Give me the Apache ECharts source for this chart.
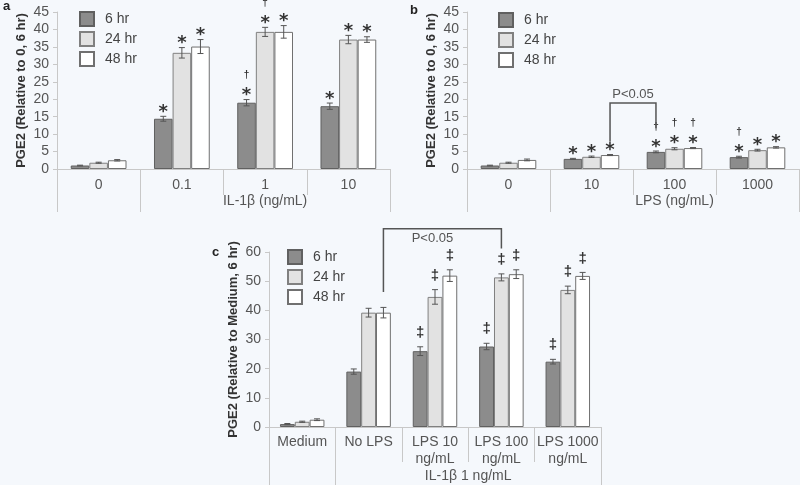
<!DOCTYPE html>
<html><head><meta charset="utf-8">
<style>html,body{margin:0;padding:0;background:#f5f8fc;}#chart{width:800px;height:485px;}</style>
<script src="https://cdn.jsdelivr.net/npm/echarts@6/dist/echarts.min.js"></script>
</head><body><div id="chart"></div>
<script>
const seriesNames = ['6 hr', '24 hr', '48 hr'];

// Panel a: IL-1β
const catsA = ['0', '0.1', '1', '10'];
const groupBoundsA = [0, 1, 4];
const groupNamesA = ['', 'IL-1β (ng/mL)'];
const a6 = [1.0, 14.4, 19.0, 18.0];
const a24 = [1.8, 33.3, 39.3, 37.1];
const a48 = [2.5, 35.1, 39.3, 37.1];
const errA6 = [0.1, 0.7, 0.9, 0.9];
const errA24 = [0.15, 1.5, 1.3, 1.2];
const errA48 = [0.2, 2.0, 1.8, 0.8];
const marksA6 = ['', '*', '†*', '*'];
const marksA24 = ['', '*', '†*', '*'];
const marksA48 = ['', '*', '*', '*'];

// Panel b: LPS
const catsB = ['0', '10', '100', '1000'];
const groupBoundsB = [0, 1, 4];
const groupNamesB = ['', 'LPS (ng/mL)'];
const b6 = [1.0, 2.9, 4.9, 3.4];
const b24 = [1.8, 3.5, 5.8, 5.4];
const b48 = [2.6, 4.0, 6.0, 6.2];
const errB6 = [0.1, 0.15, 0.25, 0.25];
const errB24 = [0.15, 0.2, 0.3, 0.25];
const errB48 = [0.25, 0.15, 0.15, 0.2];
const marksB6 = ['', '*', '†*', '†*'];
const marksB24 = ['', '*', '†*', '*'];
const marksB48 = ['', '*', '†*', '*'];
const bracketB = [[1, 2, 7.8], [2, 0, 11.7]]; // [category, series, y]
const bracketBTop = 18.9;

// Panel c: IL-1β 1 ng/mL + LPS
const catsC = ['Medium', 'No LPS', 'LPS 10\nng/mL', 'LPS 100\nng/mL', 'LPS 1000\nng/mL'];
const groupBoundsC = [0, 1, 5];
const groupNamesC = ['', 'IL-1β 1 ng/mL'];
const c6 = [1.0, 19.0, 26.0, 27.6, 22.4];
const c24 = [1.8, 39.2, 44.6, 51.3, 47.0];
const c48 = [2.5, 39.2, 51.9, 52.4, 51.8];
const errC6 = [0.2, 0.9, 1.5, 1.1, 0.8];
const errC24 = [0.2, 1.5, 2.5, 1.2, 1.3];
const errC48 = [0.3, 1.8, 2.0, 1.5, 1.2];
const marksC6 = ['', '', '‡', '‡', '‡'];
const marksC24 = ['', '', '‡', '‡', '‡'];
const marksC48 = ['', '', '‡', '‡', '‡'];
const bracketC = [[1, 2, 46.3], [3, 1, 61.2]];
const bracketCTop = 68;

const barColors = ['#8c8c8c', '#e2e2e2', '#ffffff'];
const borderColors = ['#606060', '#808080', '#707070'];
const GAP = 0.33;
const FONT = '"Liberation Sans", Arial, sans-serif';
const axisGray = '#c8c8c8';
const textGray = '#555';

const panels = [
  {cats: catsA, bounds: groupBoundsA, gnames: groupNamesA, vals: [a6, a24, a48], errs: [errA6, errA24, errA48], marks: [marksA6, marksA24, marksA48],
   grid: {left: 57, top: 12, width: 333, height: 157}, ymax: 45, yint: 5, yname: 'PGE2 (Relative to 0, 6 hr)', nameGap: 29,
   innerTick: 26, outerTick: 43, innerMargin: 8, outerMargin: 25},
  {cats: catsB, bounds: groupBoundsB, gnames: groupNamesB, vals: [b6, b24, b48], errs: [errB6, errB24, errB48], marks: [marksB6, marksB24, marksB48],
   grid: {left: 467, top: 12, width: 332, height: 157}, ymax: 45, yint: 5, yname: 'PGE2 (Relative to 0, 6 hr)', nameGap: 29,
   innerTick: 26, outerTick: 43, innerMargin: 8, outerMargin: 25,
   bracket: bracketB, bracketTop: bracketBTop, textAbove: true},
  {cats: catsC, bounds: groupBoundsC, gnames: groupNamesC, vals: [c6, c24, c48], errs: [errC6, errC24, errC48], marks: [marksC6, marksC24, marksC48],
   grid: {left: 269, top: 252, width: 332, height: 175}, ymax: 60, yint: 10, yname: 'PGE2 (Relative to Medium, 6 hr)', nameGap: 29,
   innerTick: 35, outerTick: 60, innerMargin: 7, outerMargin: 42,
   bracket: bracketC, bracketTop: bracketCTop, textAbove: false}
];

function barX(api, cat, s) {
  const cx = api.coord([cat, 0])[0];
  const bw = api.size([1, 0])[0] * (1 - GAP) / 3;
  return cx + (s - 1) * bw;
}

const grids = [], xAxes = [], yAxes = [], series = [], legends = [];
const legendPos = [{left: 79, top: 11}, {left: 498, top: 12}, {left: 287, top: 249}];

panels.forEach((p, pi) => {
  grids.push(Object.assign({containLabel: false}, p.grid));
  const mids = [];
  for (let g = 0; g < p.gnames.length; g++) if (p.gnames[g]) mids.push((p.bounds[g] + p.bounds[g + 1]) / 2);
  xAxes.push({
    type: 'category', gridIndex: pi, position: 'bottom', data: p.cats,
    axisLine: {show: true, lineStyle: {color: axisGray}},
    axisTick: {show: true, length: p.innerTick, lineStyle: {color: axisGray}},
    axisLabel: {margin: p.innerMargin, fontSize: 14, color: textGray, fontFamily: FONT, lineHeight: 17, interval: 0}
  });
  xAxes.push({
    type: 'value', gridIndex: pi, position: 'bottom', min: 0, max: p.cats.length,
    axisLine: {show: false}, splitLine: {show: false},
    axisTick: {show: true, length: p.outerTick, customValues: p.bounds, lineStyle: {color: axisGray}},
    axisLabel: {customValues: mids, margin: p.outerMargin, fontSize: 14, color: textGray, fontFamily: FONT,
      formatter: (v) => { for (let g = 0; g < p.gnames.length; g++) { if (v > p.bounds[g] && v < p.bounds[g + 1]) return p.gnames[g]; } return ''; }}
  });
  yAxes.push({
    type: 'value', gridIndex: pi, min: 0, max: p.ymax, interval: p.yint,
    axisLine: {show: true, lineStyle: {color: axisGray}},
    axisTick: {show: true, length: 4, lineStyle: {color: axisGray}},
    splitLine: {show: false},
    axisLabel: {margin: 8, fontSize: 14, color: textGray, fontFamily: FONT},
    name: p.yname, nameLocation: 'middle', nameGap: p.nameGap,
    nameTextStyle: {fontWeight: 'bold', fontSize: 13, color: '#333', fontFamily: FONT}
  });
  for (let s = 0; s < 3; s++) {
    series.push({
      type: 'bar', name: seriesNames[s], xAxisIndex: pi * 2, yAxisIndex: pi, data: p.vals[s],
      barGap: '0%', barCategoryGap: (GAP * 100) + '%',
      itemStyle: {color: barColors[s], borderColor: borderColors[s], borderWidth: 1},
      emphasis: {disabled: true}
    });
  }
  const errData = [];
  for (let s = 0; s < 3; s++) for (let c = 0; c < p.cats.length; c++) errData.push([c, p.vals[s][c], p.errs[s][c], s]);
  series.push({
    type: 'custom', xAxisIndex: pi * 2, yAxisIndex: pi, z: 10, silent: true, clip: false,
    dimensions: ['cat', 'val', 'err', 'ser'], encode: {x: 0, y: 1},
    data: errData,
    renderItem: (params, api) => {
      const cat = api.value(0), v = api.value(1), e = api.value(2), s = api.value(3);
      const x = barX(api, cat, s);
      const top = api.coord([cat, v + e])[1];
      const bot = api.coord([cat, v - e])[1];
      const ls = {stroke: '#555', lineWidth: 1};
      const ch = [
        {type: 'line', shape: {x1: x, y1: top, x2: x, y2: bot}, style: ls},
        {type: 'line', shape: {x1: x - 3, y1: top, x2: x + 3, y2: top}, style: ls},
        {type: 'line', shape: {x1: x - 3, y1: bot, x2: x + 3, y2: bot}, style: ls}
      ];
      const m = p.marks[s][cat] || '';
      if (m.indexOf('*') >= 0) ch.push({type: 'text', style: {text: '*', x: x, y: top - 4, font: 'bold 18px "DejaVu Sans"', fill: '#333', align: 'center', verticalAlign: 'middle'}});
      if (m.indexOf('†') >= 0) ch.push({type: 'text', style: {text: '†', x: x, y: top - 24, font: 'bold 10px "Liberation Sans"', fill: '#333', align: 'center', verticalAlign: 'middle'}});
      if (m.indexOf('‡') >= 0) ch.push({type: 'text', style: {text: '‡', x: x, y: top - 14, font: 'bold 15px "Liberation Sans"', fill: '#333', align: 'center', verticalAlign: 'middle'}});
      return {type: 'group', children: ch};
    }
  });
  if (p.bracket) {
    series.push({
      type: 'custom', xAxisIndex: pi * 2, yAxisIndex: pi, z: 11, silent: true, clip: false,
      data: [[0, 0]],
      renderItem: (params, api) => {
        const [l, r] = p.bracket;
        const xl = barX(api, l[0], l[1]), xr = barX(api, r[0], r[1]);
        const yl = api.coord([l[0], l[2]])[1], yr = api.coord([r[0], r[2]])[1];
        const yt = api.coord([l[0], p.bracketTop])[1];
        const ls = {stroke: '#555', lineWidth: 1.5, fill: null};
        return {type: 'group', children: [
          {type: 'polyline', shape: {points: [[xl, yl], [xl, yt], [xr, yt], [xr, yr]]}, style: ls},
          {type: 'text', style: {text: 'P<0.05', x: p.textAbove ? (xl + xr) / 2 : (xl + xr) / 2 - 10, y: p.textAbove ? yt - 2 : yt + 3,
            font: '13px "Liberation Sans"', fill: '#555', align: 'center', verticalAlign: p.textAbove ? 'bottom' : 'top'}}
        ]};
      }
    });
  }
  legends.push(Object.assign({
    orient: 'vertical', itemWidth: 14, itemHeight: 14, itemGap: 4, icon: 'rect', data: seriesNames,
    selectedMode: false, padding: 0,
    textStyle: {fontSize: 14, color: '#444', fontFamily: FONT, padding: [0, 0, 0, 6], lineHeight: 14}
  }, legendPos[pi]));
});

const chart = echarts.init(document.getElementById('chart'), null, {renderer: 'canvas'});
chart.setOption({
  backgroundColor: '#f5f8fc',
  animation: false,
  textStyle: {fontFamily: FONT},
  grid: grids, xAxis: xAxes, yAxis: yAxes, series: series, legend: legends,
  graphic: [
    {type: 'text', left: 3, top: 0, style: {text: 'a', font: 'bold 13px "Liberation Sans"', fill: '#222'}},
    {type: 'text', left: 410, top: 4, style: {text: 'b', font: 'bold 13px "Liberation Sans"', fill: '#222'}},
    {type: 'text', left: 212, top: 246, style: {text: 'c', font: 'bold 13px "Liberation Sans"', fill: '#222'}}
  ]
});
</script></body></html>
